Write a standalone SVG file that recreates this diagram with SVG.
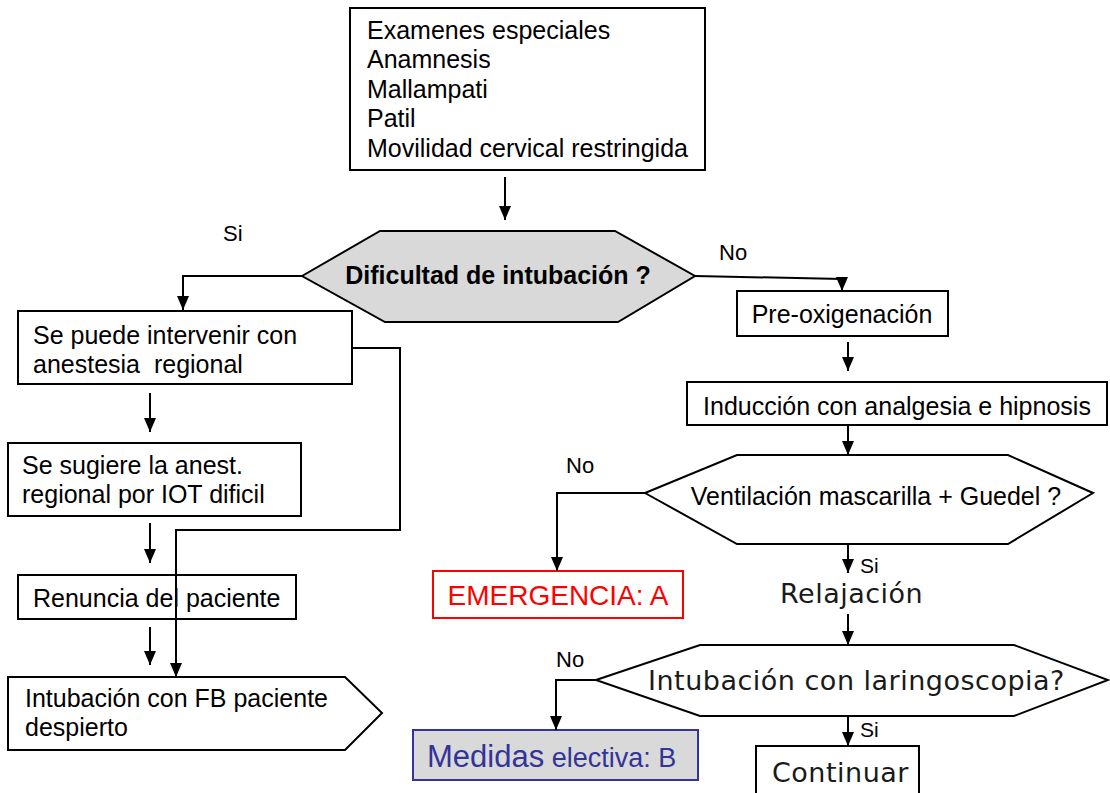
<svg xmlns="http://www.w3.org/2000/svg" width="1110" height="793" viewBox="0 0 1110 793">
  <defs>
    <marker id="arr" viewBox="0 0 14 12" refX="14" refY="6" markerWidth="14" markerHeight="12" markerUnits="userSpaceOnUse" orient="auto">
      <path d="M0,0 L14,6 L0,12 Z" fill="#000"/>
    </marker>
    <style>
      .box { fill: #fff; stroke: #000; stroke-width: 2; }
      .t { font-family: "Liberation Sans", Arial, sans-serif; font-size: 25px; fill: #000; }
      .v { font-family: "DejaVu Sans", Verdana, sans-serif; font-size: 27px; letter-spacing: 0.5px; fill: #1a1a1a; }
      .lbl { font-family: "Liberation Sans", Arial, sans-serif; font-size: 22px; fill: #000; }
      .c { fill: none; stroke: #000; stroke-width: 2; }
    </style>
  </defs>

  <rect width="1110" height="793" fill="#fff"/>

  <!-- nodes -->
  <g id="examenes">
    <rect class="box" x="350" y="8" width="355" height="162"/>
    <text class="t" x="367" y="39">Examenes especiales</text>
    <text class="t" x="367" y="68">Anamnesis</text>
    <text class="t" x="367" y="98">Mallampati</text>
    <text class="t" x="367" y="127">Patil</text>
    <text class="t" x="367" y="157">Movilidad cervical restringida</text>
  </g>

  <g id="dificultad">
    <polygon points="302,276 380,231 615,231 695,276 618,322 385,322" fill="#d9d9d9" stroke="#000" stroke-width="2"/>
    <text class="t" x="498" y="284" text-anchor="middle" font-weight="bold">Dificultad de intubación ?</text>
  </g>

  <g id="intervenir">
    <rect class="box" x="18" y="311" width="334" height="73"/>
    <text class="t" x="33" y="344">Se puede intervenir con</text>
    <text class="t" x="33" y="373" xml:space="preserve">anestesia  regional</text>
  </g>

  <g id="sugiere">
    <rect class="box" x="8" y="443" width="293" height="73"/>
    <text class="t" x="22" y="474">Se sugiere la anest.</text>
    <text class="t" x="22" y="503">regional por IOT dificil</text>
  </g>

  <g id="renuncia">
    <rect class="box" x="18" y="575" width="278" height="44"/>
    <text class="t" x="33" y="607">Renuncia del paciente</text>
  </g>

  <g id="fb">
    <polygon class="box" points="8,677 345,677 382,713 345,750 8,750"/>
    <text class="t" x="25" y="707">Intubación con FB paciente</text>
    <text class="t" x="25" y="736">despierto</text>
  </g>

  <g id="preoxigenacion">
    <rect class="box" x="737" y="291" width="211" height="45"/>
    <text class="t" x="842" y="323" text-anchor="middle">Pre-oxigenación</text>
  </g>

  <g id="induccion">
    <rect class="box" x="687" y="382" width="420" height="43"/>
    <text class="t" x="897" y="415" text-anchor="middle">Inducción con analgesia e hipnosis</text>
  </g>

  <g id="ventilacion">
    <polygon class="box" points="645,493 737,455 1008,455 1093,493 1008,544 737,544"/>
    <text class="t" x="876" y="505" text-anchor="middle">Ventilación mascarilla + Guedel ?</text>
  </g>

  <g id="emergencia">
    <rect x="433" y="571" width="250" height="47" fill="#fff" stroke="#ff0000" stroke-width="2"/>
    <text class="t" x="558" y="605" text-anchor="middle" style="fill:#ff0000;font-size:28px">EMERGENCIA: A</text>
  </g>

  <g id="relajacion">
    <text class="v" x="780" y="603">Relajación</text>
  </g>

  <g id="laringoscopia">
    <polygon class="box" points="596,680 700,645 1014,645 1108,680 1014,716 700,716"/>
    <text class="v" x="648" y="690">Intubación con laringoscopia?</text>
  </g>

  <g id="medidas">
    <rect x="413" y="730" width="285" height="50" fill="#d9d9d9" stroke="#333399" stroke-width="2"/>
    <text class="t" x="427" y="767" style="fill:#333399"><tspan font-size="31">Medidas</tspan><tspan font-size="27"> electiva: B</tspan></text>
  </g>

  <g id="continuar">
    <rect class="box" x="756" y="746" width="163" height="60"/>
    <text class="v" x="772" y="782">Continuar</text>
  </g>

  <!-- branch labels -->
  <g id="labels">
    <text class="lbl" x="223" y="241">Si</text>
    <text class="lbl" x="719" y="260">No</text>
    <text class="lbl" x="566" y="473">No</text>
    <text class="lbl" x="860" y="573" font-size="21" style="font-size:21px">Si</text>
    <text class="lbl" x="556" y="667">No</text>
    <text class="lbl" x="860" y="737" style="font-size:21px">Si</text>
  </g>

  <!-- connectors -->
  <g id="connectors">
    <line class="c" x1="505" y1="177" x2="505" y2="220" marker-end="url(#arr)"/>
    <polyline class="c" points="302,276 183,276 183,310" marker-end="url(#arr)"/>
    <polyline class="c" points="695,276 842,279 842,291" marker-end="url(#arr)"/>
    <polyline class="c" points="352,348 400,348 400,530 176,530 176,677" marker-end="url(#arr)"/>
    <line class="c" x1="150" y1="393" x2="150" y2="432" marker-end="url(#arr)"/>
    <line class="c" x1="150" y1="523" x2="150" y2="563" marker-end="url(#arr)"/>
    <line class="c" x1="150" y1="627" x2="150" y2="665" marker-end="url(#arr)"/>
    <line class="c" x1="848" y1="342" x2="848" y2="371" marker-end="url(#arr)"/>
    <line class="c" x1="848" y1="425" x2="848" y2="455" marker-end="url(#arr)"/>
    <polyline class="c" points="645,493 557,493 557,571" marker-end="url(#arr)"/>
    <line class="c" x1="848" y1="544" x2="848" y2="573" marker-end="url(#arr)"/>
    <line class="c" x1="848" y1="614" x2="848" y2="645" marker-end="url(#arr)"/>
    <polyline class="c" points="596,680 556,680 556,730" marker-end="url(#arr)"/>
    <line class="c" x1="848" y1="716" x2="848" y2="746" marker-end="url(#arr)"/>
  </g>
</svg>
